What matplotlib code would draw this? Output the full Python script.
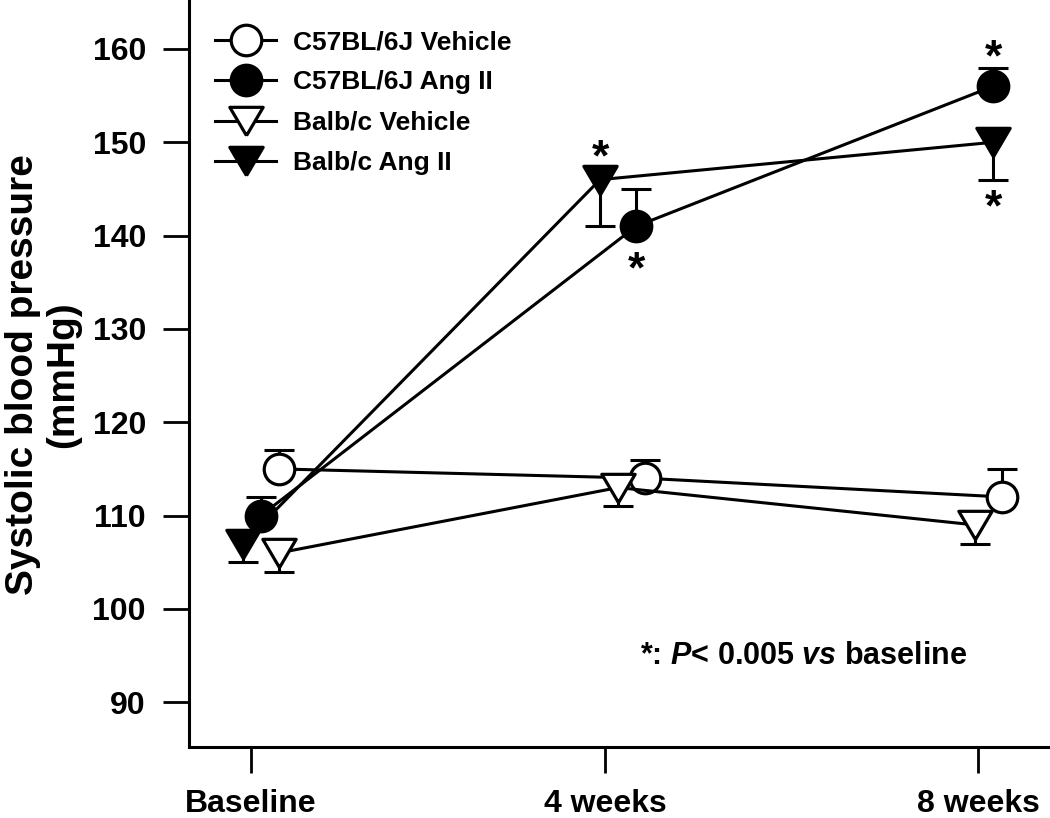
import numpy as np
import matplotlib.pyplot as plt

plt.rcParams['font.family'] = 'Liberation Sans'
plt.rcParams['font.weight'] = 'bold'
plt.rcParams['mathtext.fontset'] = 'custom'
plt.rcParams['mathtext.it'] = 'Liberation Sans:italic:bold'
plt.rcParams['mathtext.rm'] = 'Liberation Sans:bold'

# --- data ---
timepoints = ['Baseline', '4 weeks', '8 weeks']
tick_pos = [0, 1, 2.054]

labels = ['C57BL/6J Vehicle', 'C57BL/6J Ang II', 'Balb/c Vehicle', 'Balb/c Ang II']

# x positions are slightly staggered per group, as in the original
c57_veh_x = [0.079, 1.113, 2.121]
c57_veh = [115, 114, 112]
c57_veh_err = [2, 2, 3]

c57_ang_x = [0.028, 1.088, 2.096]
c57_ang = [110, 141, 156]
c57_ang_err = [2, 4, 2]

balb_veh_x = [0.079, 1.037, 2.045]
balb_veh = [106, 113, 109]
balb_veh_err = [2, 2, 2]

balb_ang_x = [-0.023, 0.986, 2.096]
balb_ang = [107, 146, 150]
balb_ang_err = [2, 5, 4]

# significant points: (series index, time index, offset of the star in points)
stars = [(3, 1, 15), (1, 1, -32), (1, 2, 20), (3, 2, -48)]

# slightly squat downward triangle, like the original
tri_down = [(0, -0.85), (-1, 0.85), (1, 0.85), (0, -0.85)]

groups = [
    (c57_veh_x, c57_veh, c57_veh_err, 'o', 'white', +1, 22),
    (c57_ang_x, c57_ang, c57_ang_err, 'o', 'black', +1, 22),
    (balb_veh_x, balb_veh, balb_veh_err, tri_down, 'white', -1, 24),
    (balb_ang_x, balb_ang, balb_ang_err, tri_down, 'black', -1, 24),
]

fig = plt.figure(figsize=(10.5, 8.18), dpi=100)
ax = fig.add_axes([0.18, 0.0868, 0.82, 0.9132])

lw = 2.2
for (xs, ys, es, mk, fc, sign, ms), lab in zip(groups, labels):
    xs = np.array(xs); ys = np.array(ys, float); es = np.array(es, float)
    ends = ys + sign * es
    ax.vlines(xs, ys, ends, colors='black', lw=lw, zorder=2)
    ax.plot(xs, ends, ls='none', marker='_', ms=22, mew=lw, color='black', zorder=2)
    ax.plot(xs, ys, color='black', lw=lw, marker=mk, ms=ms,
            mfc=fc, mec='black', mew=2.3, label=lab, zorder=3)

for si, ti, off in stars:
    xs, ys = groups[si][0], groups[si][1]
    ax.annotate('*', (xs[ti], ys[ti]), xytext=(0, off), textcoords='offset points',
                ha='center', va='center', fontsize=32, fontweight='bold')

ax.text(1.56, 95.0, '*: $P$< 0.005 $vs$ baseline', ha='center', va='center', fontsize=22)

ax.set_xlim(-0.175, 2.257)
ax.set_ylim(85.2, 165.25)
ax.set_xticks(tick_pos)
ax.set_xticklabels(timepoints)
ax.set_yticks(np.arange(90, 161, 10))
for s in ['top', 'right']:
    ax.spines[s].set_visible(False)
for s in ['left', 'bottom']:
    ax.spines[s].set_linewidth(2.2)
ax.tick_params(axis='both', direction='out', length=19, width=2.0, labelsize=23)
ax.tick_params(axis='x', pad=11)
ax.tick_params(axis='y', pad=12)

fig.text(0.041, 1 - 375 / 818, 'Systolic blood pressure\n(mmHg)', rotation=90,
         ha='center', va='center', fontsize=28, linespacing=1.12)

ax.legend(loc='upper left', bbox_to_anchor=(0.0, 0.995), frameon=False, fontsize=19,
          handlelength=2.3, handletextpad=0.65, labelspacing=0.62, borderaxespad=0.6)

fig.savefig('out.png', dpi=100)
